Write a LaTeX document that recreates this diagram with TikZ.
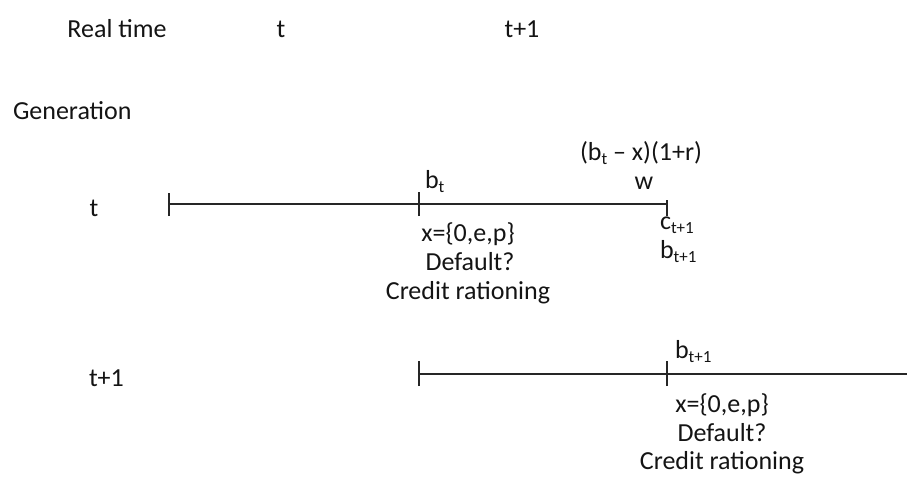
\documentclass[tikz,border=0pt]{standalone}
\usepackage{fontspec}
\setmainfont{Carlito}
\newcommand{\sbs}[1]{\raisebox{-4pt}{\fontsize{17}{17}\selectfont #1}}
\begin{document}
\begin{tikzpicture}[x=1pt,y=-1pt,
  lbl/.style={inner sep=0pt,outer sep=0pt,font=\fontsize{26}{28}\selectfont,text=black!92},
  axis/.style={line width=1.6pt,black!85},
  tick/.style={line width=1.6pt,black!85}]
\useasboundingbox (0,0) rectangle (907,479);
% header
\node[lbl,anchor=base] (rt) at (117,37) {Real time};
\node[lbl,anchor=base] (tt) at (281,37) {t};
\node[lbl,anchor=base] (tt1) at (522,37) {t+1};
\node[lbl,anchor=base west] (gen) at (13,119) {Generation};
\node[lbl,anchor=base] (g1) at (94,216) {t};
\node[lbl,anchor=base west] (g2) at (89,386) {t+1};
% generation t line
\coordinate (a0) at (169,204);
\coordinate (a1) at (419,204);
\coordinate (a2) at (667,204);
\draw[axis] (a0) -- (a2);
\draw[tick] ([yshift=-12pt]a0) -- ([yshift=11pt]a0);
\draw[tick] ([yshift=-12pt]a1) -- ([yshift=12pt]a1);
\draw[tick] ([yshift=-12pt]a2) -- ([yshift=4pt]a2);
\node[lbl,anchor=base west] (bt) at (425,188) {b\sbs{t}};
\node[lbl,anchor=base west] (btx) at (580,160) {(b\sbs{t} – x)(1+r)};
\node[lbl,anchor=base] (w) at (644,189) {w};
\node[lbl,anchor=base west] (ct1) at (660,229) {c\sbs{t+1}};
\node[lbl,anchor=base west] (bt1) at (660,258) {b\sbs{t+1}};
\node[lbl,anchor=base] (x1) at (468,241) {x=\{0,e,p\}};
\node[lbl,anchor=base] (d1) at (470,270) {Default?};
\node[lbl,anchor=base] (c1) at (468,299) {Credit rationing};
% generation t+1 line
\coordinate (b0) at (419,374);
\coordinate (b1) at (667,374);
\coordinate (b2) at (907,374);
\draw[axis] (b0) -- (b2);
\draw[tick] ([yshift=-12pt]b0) -- ([yshift=13pt]b0);
\draw[tick] ([yshift=-12pt]b1) -- ([yshift=13pt]b1);
\node[lbl,anchor=base west] (bb1) at (675,358) {b\sbs{t+1}};
\node[lbl,anchor=base] (x2) at (722,412) {x=\{0,e,p\}};
\node[lbl,anchor=base] (d2) at (722,441) {Default?};
\node[lbl,anchor=base] (c2) at (722,469) {Credit rationing};
\end{tikzpicture}
\end{document}
